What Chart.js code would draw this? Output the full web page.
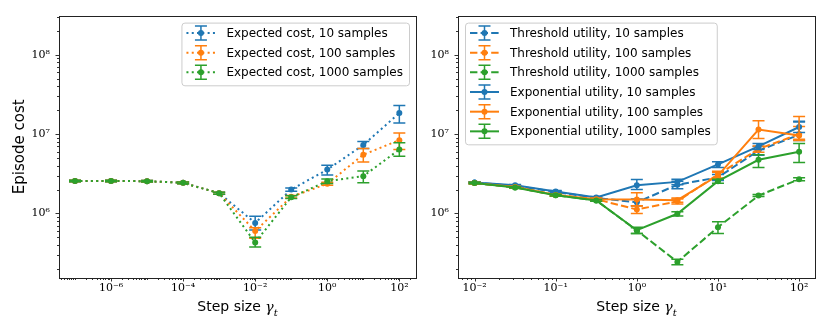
<!DOCTYPE html>
<html>
<head>
<meta charset="utf-8">
<script src="https://cdn.jsdelivr.net/npm/chart.js@4.4.1/dist/chart.umd.min.js"></script>
<style>
  body { margin: 0; background: #fff; }
  #wrap { position: relative; width: 830px; height: 332px; }
  .panel { position: absolute; top: 0; height: 332px; }
</style>
</head>
<body>
<div id="wrap">
  <div class="panel" style="left:0;width:420px"><canvas id="leftChart"></canvas></div>
  <div class="panel" style="left:420px;width:410px"><canvas id="rightChart"></canvas></div>
</div>
<script>
const blue = '#1f77b4', orange = '#ff7f0e', green = '#2ca02c';

// left panel: expected cost
const stepsLeft = [1e-7, 1e-6, 1e-5, 1e-4, 1e-3, 1e-2, 1e-1, 1, 10, 100];
const cost10     = [2.57e6, 2.57e6, 2.55e6, 2.43e6, 1.80e6, 7.6e5, 2.0e6, 3.57e6, 7.3e6, 1.84e7];
const cost10Lo   = [2.51e6, 2.51e6, 2.49e6, 2.37e6, 1.75e6, 6.2e5, 1.9e6, 3.05e6, 6.6e6, 1.38e7];
const cost10Hi   = [2.63e6, 2.63e6, 2.61e6, 2.49e6, 1.85e6, 9.2e5, 2.1e6, 4.05e6, 8.1e6, 2.3e7];
const cost100    = [2.57e6, 2.57e6, 2.55e6, 2.43e6, 1.80e6, 6.0e5, 1.62e6, 2.36e6, 5.5e6, 8.4e6];
const cost100Lo  = [2.51e6, 2.51e6, 2.49e6, 2.37e6, 1.75e6, 4.85e5, 1.56e6, 2.26e6, 4.45e6, 6.4e6];
const cost100Hi  = [2.63e6, 2.63e6, 2.61e6, 2.49e6, 1.85e6, 6.6e5, 1.68e6, 2.47e6, 6.6e6, 1.03e7];
const cost1000   = [2.57e6, 2.57e6, 2.55e6, 2.43e6, 1.80e6, 4.3e5, 1.6e6, 2.55e6, 2.95e6, 6.4e6];
const cost1000Lo = [2.51e6, 2.51e6, 2.49e6, 2.37e6, 1.75e6, 3.77e5, 1.54e6, 2.38e6, 2.43e6, 5.25e6];
const cost1000Hi = [2.63e6, 2.63e6, 2.61e6, 2.49e6, 1.85e6, 5.0e5, 1.67e6, 2.72e6, 3.44e6, 7.8e6];

// right panel: threshold / exponential utility
const stepsRight = [0.01, 0.0316, 0.1, 0.316, 1, 3.16, 10, 31.6, 100];
const thr10     = [2.45e6, 2.22e6, 1.87e6, 1.57e6, 1.38e6, 2.3e6, 2.85e6, 6.2e6, 9.8e6];
const thr10Lo   = [2.39e6, 2.16e6, 1.82e6, 1.52e6, 1.25e6, 2.05e6, 2.6e6, 5.4e6, 8.3e6];
const thr10Hi   = [2.51e6, 2.28e6, 1.92e6, 1.62e6, 1.52e6, 2.55e6, 3.1e6, 7.0e6, 1.45e7];
const thr100    = [2.42e6, 2.15e6, 1.71e6, 1.51e6, 1.12e6, 1.42e6, 3.1e6, 6.5e6, 1.0e7];
const thr100Lo  = [2.36e6, 2.1e6, 1.66e6, 1.46e6, 1.0e6, 1.32e6, 2.8e6, 5.9e6, 8.3e6];
const thr100Hi  = [2.48e6, 2.2e6, 1.76e6, 1.56e6, 1.25e6, 1.52e6, 3.4e6, 7.1e6, 1.25e7];
const thr1000   = [2.42e6, 2.13e6, 1.7e6, 1.46e6, 6.1e5, 2.45e5, 6.7e5, 1.68e6, 2.7e6];
const thr1000Lo = [2.37e6, 2.09e6, 1.66e6, 1.42e6, 5.6e5, 2.25e5, 5.6e5, 1.63e6, 2.58e6];
const thr1000Hi = [2.47e6, 2.17e6, 1.74e6, 1.5e6, 6.6e5, 2.65e5, 7.85e5, 1.73e6, 2.82e6];
const exp10     = [2.45e6, 2.27e6, 1.89e6, 1.59e6, 2.27e6, 2.5e6, 4.15e6, 7.0e6, 1.23e7];
const exp10Lo   = [2.4e6, 2.22e6, 1.84e6, 1.54e6, 2.0e6, 2.3e6, 3.8e6, 6.4e6, 1.05e7];
const exp10Hi   = [2.5e6, 2.32e6, 1.94e6, 1.64e6, 2.68e6, 2.7e6, 4.5e6, 7.6e6, 1.42e7];
const exp100    = [2.42e6, 2.15e6, 1.71e6, 1.51e6, 1.5e6, 1.47e6, 3.0e6, 1.14e7, 9.6e6];
const exp100Lo  = [2.37e6, 2.1e6, 1.66e6, 1.46e6, 1.24e6, 1.38e6, 2.75e6, 8.8e6, 8.6e6];
const exp100Hi  = [2.47e6, 2.2e6, 1.76e6, 1.56e6, 1.82e6, 1.56e6, 3.3e6, 1.47e7, 1.67e7];
const exp1000   = [2.42e6, 2.13e6, 1.7e6, 1.46e6, 6.15e5, 9.9e5, 2.55e6, 4.75e6, 6.0e6];
const exp1000Lo = [2.37e6, 2.09e6, 1.66e6, 1.42e6, 5.6e5, 9.3e5, 2.4e6, 3.8e6, 4.4e6];
const exp1000Hi = [2.47e6, 2.17e6, 1.74e6, 1.5e6, 6.7e5, 1.05e6, 2.7e6, 5.5e6, 7.6e6];

// tick labels
const yTicks = [1e6, 1e7, 1e8];
const yTickLabels = ['10⁶', '10⁷', '10⁸'];
const xTicksLeft = [1e-6, 1e-4, 1e-2, 1, 100];
const xTickLabelsLeft = ['10⁻⁶', '10⁻⁴', '10⁻²', '10⁰', '10²'];
const xTicksRight = [0.01, 0.1, 1, 10, 100];
const xTickLabelsRight = ['10⁻²', '10⁻¹', '10⁰', '10¹', '10²'];

const dotted = [2, 3.3], dashed = [7.4, 3.2];

function series(label, xs, ys, lo, hi, color, dash, n, i) {
  return {
    label: label,
    data: xs.map((x, k) => ({ x: x, y: ys[k] })),
    errLow: lo, errHigh: hi,
    borderColor: color, backgroundColor: color,
    borderWidth: 2, borderDash: dash,
    pointRadius: 3, pointHoverRadius: 3, pointBorderWidth: 0,
    pointBackgroundColor: color,
    tension: 0, fill: false,
    order: n - i
  };
}

// error bars drawn just under each dataset's own line
const errorBars = {
  id: 'errorBars',
  beforeDatasetDraw(chart, args) {
    const ds = chart.data.datasets[args.index];
    if (!ds.errLow) return;
    const ctx = chart.ctx, xs = chart.scales.x, ys = chart.scales.y;
    ctx.save();
    ctx.strokeStyle = ds.borderColor;
    ctx.lineWidth = 1.5;
    ctx.setLineDash([]);
    ds.data.forEach((p, k) => {
      const px = xs.getPixelForValue(p.x);
      const y0 = ys.getPixelForValue(ds.errLow[k]);
      const y1 = ys.getPixelForValue(ds.errHigh[k]);
      ctx.beginPath();
      ctx.moveTo(px, y0); ctx.lineTo(px, y1);
      ctx.moveTo(px - 6, y0); ctx.lineTo(px + 6, y0);
      ctx.moveTo(px - 6, y1); ctx.lineTo(px + 6, y1);
      ctx.stroke();
    });
    ctx.restore();
  }
};

function drawLogTicks(ctx, scale, horizontal, area, labelled) {
  const lo = Math.floor(Math.log10(scale.min)), hi = Math.ceil(Math.log10(scale.max));
  ctx.beginPath();
  for (let e = lo; e <= hi; e++) {
    for (let k = 1; k <= 9; k++) {
      const v = k * Math.pow(10, e);
      if (v < scale.min || v > scale.max) continue;
      const major = k === 1 && labelled.some(t => Math.abs(Math.log10(t) - e) < 1e-6);
      const len = major ? 3.5 : 2;
      const p = Math.round(scale.getPixelForValue(v)) + 0.5;
      if (horizontal) { ctx.moveTo(p, area.bottom); ctx.lineTo(p, area.bottom + len); }
      else { ctx.moveTo(area.left, p); ctx.lineTo(area.left - len, p); }
    }
  }
  ctx.stroke();
}

const frame = {
  id: 'frame',
  afterDraw(chart, args, opts) {
    const ctx = chart.ctx, a = chart.chartArea;
    ctx.save();
    // ticks
    ctx.strokeStyle = '#000';
    ctx.lineWidth = 0.8;
    drawLogTicks(ctx, chart.scales.x, true, a, opts.xMajor);
    drawLogTicks(ctx, chart.scales.y, false, a, yTicks);
    // spines
    ctx.strokeStyle = '#222';
    ctx.lineWidth = 1;
    ctx.strokeRect(Math.round(a.left) + 0.5, Math.round(a.top) + 0.5,
      Math.round(a.right - a.left), Math.round(a.bottom - a.top));
    // axis titles
    ctx.fillStyle = '#000';
    ctx.textBaseline = 'middle';
    const cx = (a.left + a.right) / 2;
    ctx.font = '14px "DejaVu Sans"';
    const w1 = ctx.measureText('Step size ').width;
    ctx.font = 'italic 14px "DejaVu Serif"';
    const w2 = ctx.measureText('γ').width;
    ctx.font = 'italic 10px "DejaVu Serif"';
    const w3 = ctx.measureText('t').width;
    let sx = cx - (w1 + w2 + w3) / 2;
    ctx.textAlign = 'left';
    ctx.font = '14px "DejaVu Sans"';
    ctx.fillText('Step size ', sx, 307);
    ctx.font = 'italic 14px "DejaVu Serif"';
    ctx.fillText('γ', sx + w1, 308);
    ctx.font = 'italic 10px "DejaVu Serif"';
    ctx.fillText('t', sx + w1 + w2, 313);
    if (opts.yTitle) {
      ctx.save();
      ctx.translate(20, (a.top + a.bottom) / 2);
      ctx.rotate(-Math.PI / 2);
      ctx.textAlign = 'center';
      ctx.font = '15px "DejaVu Sans"';
      ctx.fillText(opts.yTitle, 0, 0);
      ctx.restore();
    }
    // legend
    const ds = chart.data.datasets;
    ctx.font = '12px "DejaVu Sans"';
    const tw = Math.max(...ds.map(d => ctx.measureText(d.label).width));
    const rowH = 19.67;
    const w = 45 + tw + 6, h = ds.length * rowH + 3.7;
    const bx = opts.legendRight ? a.right - 7 - w : a.left + 7;
    const by = a.top + 7;
    ctx.beginPath();
    ctx.roundRect(bx + 0.5, by + 0.5, w, h, 3);
    ctx.fillStyle = 'rgba(255,255,255,0.8)';
    ctx.fill();
    ctx.strokeStyle = '#cccccc';
    ctx.lineWidth = 1;
    ctx.stroke();
    ds.forEach((d, i) => {
      const cy = by + 10.4 + i * rowH;
      const gx = bx + 5, mx = bx + 19.5;
      ctx.strokeStyle = d.borderColor;
      ctx.lineWidth = 2;
      ctx.setLineDash(d.borderDash || []);
      ctx.beginPath();
      ctx.moveTo(gx, cy); ctx.lineTo(gx + 29, cy);
      ctx.stroke();
      ctx.setLineDash([]);
      ctx.lineWidth = 1.5;
      ctx.beginPath();
      ctx.moveTo(mx, cy - 7); ctx.lineTo(mx, cy + 7);
      ctx.moveTo(mx - 6, cy - 7); ctx.lineTo(mx + 6, cy - 7);
      ctx.moveTo(mx - 6, cy + 7); ctx.lineTo(mx + 6, cy + 7);
      ctx.stroke();
      ctx.fillStyle = d.borderColor;
      ctx.beginPath();
      ctx.arc(mx, cy, 3, 0, Math.PI * 2);
      ctx.fill();
      ctx.fillStyle = '#000';
      ctx.textAlign = 'left';
      ctx.textBaseline = 'middle';
      ctx.fillText(d.label, bx + 45, cy + 1);
    });
    ctx.restore();
  }
};

function logAxis(min, max, ticks, labels, fit, pad) {
  return {
    type: 'logarithmic',
    min: min, max: max,
    grid: { display: false, drawTicks: false },
    border: { display: false },
    afterBuildTicks: s => { s.ticks = ticks.map(v => ({ value: v })); },
    afterFit: fit,
    ticks: {
      autoSkip: false, maxRotation: 0, padding: pad, color: '#000',
      font: { family: 'DejaVu Serif', size: 11 },
      callback: (v, i) => labels[i]
    }
  };
}

function makeChart(id, datasets, xAxis, yWidth, padRight, frameOpts) {
  return new Chart(document.getElementById(id), {
    type: 'line',
    data: { datasets: datasets },
    options: {
      responsive: true,
      maintainAspectRatio: false,
      animation: false,
      devicePixelRatio: 1,
      layout: { padding: { top: 15, right: padRight, left: 0, bottom: 0 } },
      scales: {
        x: xAxis,
        y: logAxis(1.535e5, 3.12e8, yTicks, yTickLabels, s => { s.width = yWidth; }, 9)
      },
      plugins: { legend: { display: false }, tooltip: { enabled: false }, frame: frameOpts }
    },
    plugins: [errorBars, frame]
  });
}

const leftSets = [
  series('Expected cost, 10 samples', stepsLeft, cost10, cost10Lo, cost10Hi, blue, dotted, 3, 0),
  series('Expected cost, 100 samples', stepsLeft, cost100, cost100Lo, cost100Hi, orange, dotted, 3, 1),
  series('Expected cost, 1000 samples', stepsLeft, cost1000, cost1000Lo, cost1000Hi, green, dotted, 3, 2)
];
makeChart('leftChart', leftSets,
  logAxis(3.6e-8, 290, xTicksLeft, xTickLabelsLeft, s => { s.height = 54; }, 4),
  59, 4, { xMajor: xTicksLeft, yTitle: 'Episode cost', legendRight: true });

const rightSets = [
  series('Threshold utility, 10 samples', stepsRight, thr10, thr10Lo, thr10Hi, blue, dashed, 6, 0),
  series('Threshold utility, 100 samples', stepsRight, thr100, thr100Lo, thr100Hi, orange, dashed, 6, 1),
  series('Threshold utility, 1000 samples', stepsRight, thr1000, thr1000Lo, thr1000Hi, green, dashed, 6, 2),
  series('Exponential utility, 10 samples', stepsRight, exp10, exp10Lo, exp10Hi, blue, [], 6, 3),
  series('Exponential utility, 100 samples', stepsRight, exp100, exp100Lo, exp100Hi, orange, [], 6, 4),
  series('Exponential utility, 1000 samples', stepsRight, exp1000, exp1000Lo, exp1000Hi, green, [], 6, 5)
];
makeChart('rightChart', rightSets,
  logAxis(6.25e-3, 157, xTicksRight, xTickLabelsRight, s => { s.height = 54; }, 4),
  38, 15, { xMajor: xTicksRight, yTitle: null, legendRight: false });
</script>
</body>
</html>
